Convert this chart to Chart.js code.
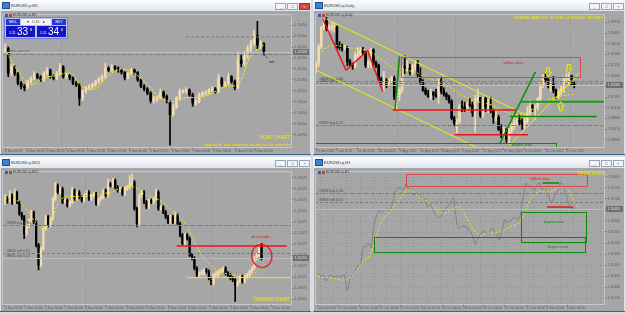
<!DOCTYPE html>
<html>
<head>
<meta charset="utf-8">
<script src="https://cdn.jsdelivr.net/npm/chart.js@4.4.0/dist/chart.umd.min.js"></script>
<style>
body{margin:0;width:625px;height:314px;overflow:hidden;background:#d3dae2;font-family:"Liberation Sans",Arial,sans-serif;position:relative}
.win{position:absolute;height:155px;background:#dde3ea;border-bottom:1px solid #3f6584;box-sizing:border-box}
.bar{position:absolute;left:0;top:0;right:0;height:11px;background:linear-gradient(#fdfdfe,#dfe6ee)}
.ico{position:absolute;left:2px;top:2px;width:6px;height:5px;background:#3e7fd0;border:1px solid #1f4f8c}
.ttl{position:absolute;left:11px;top:3px;font-size:4px;color:#333;white-space:nowrap}
.btns{position:absolute;right:1px;top:3px;display:flex;gap:1px}
.btns span{width:9px;height:5px;border:1px solid #98a4b2;background:#f2f4f7;font-size:4px;line-height:5px;text-align:center;color:#555}
.btns span.x{background:#d9483f;border-color:#a4302a;color:#fff}
canvas{position:absolute;left:1px;top:11px}
.sym{position:absolute;left:5px;top:13px;font-size:3.5px;color:#444;white-space:nowrap}
.sym i{display:inline-block;width:3px;height:3px;margin-right:1px;vertical-align:middle}
.tp{position:absolute;left:4px;top:17px;width:62px;height:20px;background:#b8c2e8;border:1px solid #6f80d8}
.tp div{position:absolute;color:#fff;text-align:center;white-space:nowrap}
.sb{top:1px;height:6px;background:#2438d8;font-size:3.5px;line-height:6px}
.lot{left:16px;top:1px;width:30px;height:6px;background:#f4f4f6;font-size:3.5px;line-height:6px;color:#333!important}
.pb{top:8px;width:29px;height:11px;background:#1414c2}
.pb small{position:absolute;left:3px;top:5px;font-size:3.5px}
.pb b{position:absolute;left:11px;top:0;font-size:10px;line-height:11px;font-weight:normal}
.pb sup{position:absolute;left:24px;top:1px;font-size:4px}
</style>
</head>
<body>
<div class="win" style="left:0;top:0;width:311px">
  <div class="bar"><i class="ico"></i><span class="ttl">EURUSD.p,M5</span>
    <div class="btns"><span>_</span><span>□</span><span class="x">×</span></div></div>
  <canvas id="m5" width="309" height="143"></canvas>
  <div class="sym"><i style="background:#3a56c8"></i><i style="background:#c83a3a"></i>EURUSD.p,M5</div>
  <div class="tp">
    <div class="sb" style="left:1px;width:14px">SELL</div>
    <div class="lot">▾&nbsp;&nbsp;&nbsp;&nbsp;0.15&nbsp;&nbsp;&nbsp;&nbsp;▸</div>
    <div class="sb" style="left:47px;width:14px">BUY</div>
    <div class="pb" style="left:1px"><small>1.11</small><b>33</b><sup>8</sup></div>
    <div class="pb" style="left:32px"><small>1.11</small><b>34</b><sup>6</sup></div>
  </div>
</div>
<div class="win" style="left:313px;top:0;width:312px">
  <div class="bar"><i class="ico"></i><span class="ttl">EURUSD.p,Daily</span>
    <div class="btns"><span>_</span><span>□</span><span>×</span></div></div>
  <canvas id="d1" width="310" height="143"></canvas>
  <div class="sym"><i style="background:#3a56c8"></i><i style="background:#c83a3a"></i>EURUSD.p,Daily</div>
</div>
<div class="win" style="left:0;top:157px;width:311px">
  <div class="bar"><i class="ico"></i><span class="ttl">EURUSD.p,M15</span>
    <div class="btns"><span>_</span><span>□</span><span>×</span></div></div>
  <canvas id="m15" width="309" height="143"></canvas>
  <div class="sym"><i style="background:#3a56c8"></i><i style="background:#c83a3a"></i>EURUSD.p,M15</div>
</div>
<div class="win" style="left:313px;top:157px;width:312px">
  <div class="bar"><i class="ico"></i><span class="ttl">EURUSD.p,H1</span>
    <div class="btns"><span>_</span><span>□</span><span>×</span></div></div>
  <canvas id="h1" width="310" height="143"></canvas>
  <div class="sym"><i style="background:#3a56c8"></i><i style="background:#c83a3a"></i>EURUSD.p,H1</div>
</div>

<script>
// candle rows are [open, high, low, close]
const m5Bars = [
  [1.11328,1.11366,1.11315,1.11343],[1.11343,1.11350,1.11215,1.11230],[1.11230,1.11270,1.11220,1.11260],
  [1.11260,1.11265,1.11220,1.11230],[1.11230,1.11235,1.11177,1.11185],[1.11185,1.11193,1.11159,1.11170],
  [1.11170,1.11179,1.11150,1.11165],[1.11165,1.11200,1.11159,1.11193],[1.11193,1.11215,1.11185,1.11205],
  [1.11205,1.11238,1.11200,1.11223],[1.11223,1.11230,1.11205,1.11211],[1.11211,1.11220,1.11193,1.11200],
  [1.11200,1.11238,1.11193,1.11230],[1.11230,1.11256,1.11223,1.11245],[1.11245,1.11250,1.11208,1.11215],
  [1.11215,1.11223,1.11200,1.11208],[1.11208,1.11238,1.11200,1.11230],[1.11230,1.11275,1.11223,1.11260],
  [1.11260,1.11265,1.11208,1.11215],[1.11215,1.11230,1.11205,1.11220],[1.11220,1.11226,1.11200,1.11211],
  [1.11211,1.11215,1.11179,1.11185],[1.11185,1.11193,1.11170,1.11177],[1.11177,1.11185,1.11084,1.11117],
  [1.11117,1.11155,1.11105,1.11150],[1.11150,1.11170,1.11140,1.11165],[1.11165,1.11179,1.11155,1.11170],
  [1.11170,1.11185,1.11159,1.11179],[1.11179,1.11200,1.11170,1.11193],[1.11193,1.11211,1.11185,1.11205],
  [1.11205,1.11223,1.11193,1.11215],[1.11215,1.11275,1.11208,1.11253],[1.11253,1.11260,1.11238,1.11245],
  [1.11245,1.11270,1.11238,1.11260],[1.11260,1.11265,1.11245,1.11253],[1.11253,1.11260,1.11235,1.11245],
  [1.11245,1.11250,1.11226,1.11235],[1.11235,1.11238,1.11200,1.11211],[1.11211,1.11235,1.11205,1.11230],
  [1.11230,1.11253,1.11223,1.11245],[1.11245,1.11250,1.11226,1.11235],[1.11235,1.11238,1.11193,1.11200],
  [1.11200,1.11205,1.11165,1.11170],[1.11170,1.11179,1.11150,1.11159],[1.11159,1.11165,1.11132,1.11140],
  [1.11140,1.11147,1.11095,1.11105],[1.11105,1.11125,1.11095,1.11114],[1.11114,1.11125,1.11102,1.11117],
  [1.11117,1.11159,1.11114,1.11144],[1.11144,1.11150,1.11117,1.11125],[1.11125,1.11132,1.11095,1.11102],
  [1.11102,1.11105,1.10903,1.11042],[1.11042,1.11090,1.11035,1.11075],[1.11075,1.11125,1.11070,1.11117],
  [1.11117,1.11159,1.11110,1.11147],[1.11147,1.11155,1.11140,1.11150],[1.11150,1.11165,1.11140,1.11155],
  [1.11155,1.11159,1.11125,1.11132],[1.11132,1.11140,1.11080,1.11095],[1.11095,1.11110,1.11084,1.11102],
  [1.11102,1.11140,1.11095,1.11132],[1.11132,1.11147,1.11125,1.11140],[1.11140,1.11150,1.11132,1.11144],
  [1.11144,1.11159,1.11135,1.11155],[1.11155,1.11170,1.11147,1.11159],[1.11159,1.11165,1.11140,1.11147],
  [1.11147,1.11226,1.11140,1.11205],[1.11205,1.11211,1.11170,1.11179],[1.11179,1.11193,1.11170,1.11185],
  [1.11185,1.11230,1.11179,1.11215],[1.11215,1.11220,1.11185,1.11193],[1.11193,1.11200,1.11155,1.11165],
  [1.11165,1.11328,1.11159,1.11290],[1.11290,1.11313,1.11260,1.11275],[1.11275,1.11328,1.11265,1.11313],
  [1.11313,1.11358,1.11298,1.11343],[1.11343,1.11380,1.11328,1.11366],[1.11366,1.11426,1.11358,1.11403],
  [1.11403,1.11467,1.11343,1.11358],[1.11358,1.11380,1.11343,1.11366],[1.11366,1.11370,1.11313,1.11328]
];
const m5Ma = [[0,1.1134],[4,1.1124],[8,1.1118],[12,1.1121],[16,1.1122],[20,1.1123],[24,1.1117],[28,1.1116],
  [32,1.1122],[36,1.1125],[40,1.1123],[44,1.1118],[48,1.1112],[52,1.1110],[56,1.1112],[60,1.1112],
  [64,1.1114],[68,1.1117],[72,1.1118],[76,1.1131],[80,1.1136]];
const m5PriceTicks = [1.1145,1.1140,1.1135,1.1130,1.1125,1.1120,1.1115,1.1110,1.1105,1.1100,1.1095];
const m5TimeTicks = [[0,'4 Nov 2019'],[6.7,'4 Nov 16:30'],[12.9,'4 Nov 18:00'],[19.1,'4 Nov 19:30'],
  [25.4,'4 Nov 21:00'],[31.9,'4 Nov 22:30'],[38.4,'5 Nov 00:00'],[44.8,'5 Nov 01:30'],[51.5,'5 Nov 03:00'],
  [58,'5 Nov 04:30'],[64.4,'5 Nov 06:00'],[71.1,'5 Nov 07:30'],[77.2,'5 Nov 09:00']];

const dailyBars = [
  [1.1195,1.1225,1.1180,1.1220],[1.1220,1.1300,1.1205,1.1290],[1.1290,1.1375,1.1280,1.1370],[1.1370,1.1405,1.1360,1.1400],
  [1.1400,1.1412,1.1355,1.1365],[1.1365,1.1380,1.1345,1.1368],[1.1368,1.1390,1.1355,1.1370],[1.1370,1.1390,1.1350,1.1372],
  [1.1372,1.1375,1.1280,1.1287],[1.1287,1.1310,1.1275,1.1285],[1.1285,1.1300,1.1270,1.1283],[1.1283,1.1295,1.1275,1.1284],
  [1.1284,1.1290,1.1208,1.1225],[1.1225,1.1235,1.1206,1.1213],[1.1213,1.1220,1.1193,1.1207],[1.1207,1.1265,1.1200,1.1252],
  [1.1252,1.1285,1.1240,1.1255],[1.1255,1.1285,1.1245,1.1271],[1.1271,1.1286,1.1255,1.1262],[1.1262,1.1270,1.1200,1.1210],
  [1.1210,1.1230,1.1200,1.1223],[1.1223,1.1282,1.1200,1.1275],[1.1275,1.1280,1.1205,1.1220],[1.1220,1.1228,1.1200,1.1210],
  [1.1210,1.1215,1.1145,1.1150],[1.1150,1.1160,1.1127,1.1140],[1.1140,1.1185,1.1101,1.1145],[1.1145,1.1155,1.1115,1.1127],
  [1.1127,1.1155,1.1125,1.1140],[1.1140,1.1165,1.1130,1.1155],[1.1155,1.1165,1.1065,1.1077],[1.1077,1.1090,1.1027,1.1085],
  [1.1085,1.1117,1.1060,1.1108],[1.1108,1.1210,1.1095,1.1202],[1.1202,1.1250,1.1175,1.1200],[1.1200,1.1230,1.1185,1.1200],
  [1.1200,1.1215,1.1170,1.1180],[1.1180,1.1215,1.1170,1.1200],[1.1200,1.1230,1.1190,1.1215],[1.1215,1.1230,1.1160,1.1170],
  [1.1170,1.1200,1.1130,1.1140],[1.1140,1.1150,1.1100,1.1105],[1.1105,1.1115,1.1085,1.1090],[1.1090,1.1105,1.1075,1.1078],
  [1.1078,1.1110,1.1065,1.1095],[1.1095,1.1100,1.1065,1.1085],[1.1085,1.1110,1.1075,1.1080],[1.1080,1.1160,1.1050,1.1143],
  [1.1143,1.1160,1.1090,1.1100],[1.1100,1.1115,1.1080,1.1088],[1.1088,1.1095,1.1065,1.1077],[1.1077,1.1085,1.1050,1.1058],
  [1.1058,1.1065,1.0980,1.0987],[1.0987,1.0995,1.0955,1.0966],[1.0966,1.0985,1.0926,1.0972],[1.0972,1.1045,1.0965,1.1035],
  [1.1035,1.1060,1.1015,1.1033],[1.1033,1.1055,1.1015,1.1026],[1.1026,1.1055,1.1015,1.1045],[1.1045,1.1070,1.1035,1.1043],
  [1.1043,1.1055,1.0995,1.1010],[1.1010,1.1085,1.0927,1.1065],[1.1065,1.1110,1.1055,1.1073],[1.1073,1.1075,1.0990,1.1000],
  [1.1000,1.1075,1.0990,1.1070],[1.1070,1.1075,1.1015,1.1030],[1.1030,1.1068,1.1010,1.1040],[1.1040,1.1075,1.1010,1.1018],
  [1.1018,1.1025,1.0965,1.0990],[1.0990,1.1025,1.0975,1.0992],[1.0992,1.1000,1.0935,1.0940],[1.0940,1.0960,1.0905,1.0920],
  [1.0920,1.0950,1.0905,1.0940],[1.0940,1.0945,1.0885,1.0900],[1.0900,1.0945,1.0879,1.0932],[1.0932,1.0965,1.0925,1.0960],
  [1.0960,1.0995,1.0940,1.0970],[1.0970,1.0990,1.0955,1.0978],[1.0978,1.1000,1.0955,1.0970],[1.0970,1.0985,1.0940,1.0956],
  [1.0956,1.0990,1.0945,1.0972],[1.0972,1.1035,1.0965,1.1005],[1.1005,1.1065,1.1000,1.1040],[1.1040,1.1045,1.1015,1.1030],
  [1.1030,1.1045,1.0990,1.1032],[1.1032,1.1075,1.1020,1.1068],[1.1068,1.1140,1.1060,1.1123],[1.1123,1.1172,1.1115,1.1155],
  [1.1155,1.1179,1.1140,1.1150],[1.1150,1.1155,1.1115,1.1125],[1.1125,1.1140,1.1100,1.1130],[1.1130,1.1163,1.1095,1.1105],
  [1.1105,1.1110,1.1070,1.1080],[1.1080,1.1110,1.1070,1.1100],[1.1100,1.1125,1.1085,1.1112],[1.1112,1.1160,1.1095,1.1150],
  [1.1150,1.1175,1.1140,1.1152],[1.1152,1.1177,1.1130,1.1166],[1.1166,1.1168,1.1125,1.1130],[1.1130,1.1140,1.1115,1.1126]
];
const dailyMa = [[0.4,1.12378],[3.2,1.12796],[7,1.12935],[10.9,1.12865],[16,1.12796],[21.1,1.12657],[25.6,1.12308],
  [30.1,1.1196],[33.9,1.1189],[37.8,1.11821],[41.6,1.11612],[46.7,1.11403],[51.9,1.11124],[57,1.10776],
  [62.1,1.10567],[67.2,1.10428],[72.3,1.10149],[77.5,1.1001],[82.6,1.10219],[87.7,1.10567],[92.8,1.10776],[99.2,1.10874]];
const dailyPriceTicks = [1.1391,1.1346,1.1301,1.1256,1.1211,1.1166,1.1121,1.1076,1.1031,1.0986,1.0941,1.0896];
const dailyTimeTicks = [[0,'19 Jun 2019'],[8,'1 Jul 2019'],[16,'11 Jul 2019'],[24,'23 Jul 2019'],[32,'2 Aug 2019'],
  [40,'14 Aug 2019'],[48,'26 Aug 2019'],[56,'5 Sep 2019'],[64,'17 Sep 2019'],[72,'27 Sep 2019'],[80,'9 Oct 2019'],
  [88,'21 Oct 2019'],[96,'31 Oct 2019']];

const m15Bars = [
  [1.11473,1.11500,1.11455,1.11480],[1.11480,1.11490,1.11460,1.11473],[1.11473,1.11518,1.11465,1.11495],
  [1.11495,1.11503,1.11455,1.11465],[1.11465,1.11525,1.11458,1.11510],[1.11510,1.11515,1.11458,1.11465],
  [1.11465,1.11470,1.11405,1.11413],[1.11413,1.11420,1.11385,1.11398],[1.11398,1.11405,1.11300,1.11323],
  [1.11323,1.11370,1.11315,1.11360],[1.11360,1.11390,1.11350,1.11383],[1.11383,1.11428,1.11375,1.11420],
  [1.11420,1.11425,1.11368,1.11375],[1.11375,1.11380,1.11262,1.11270],[1.11270,1.11278,1.11158,1.11180],
  [1.11180,1.11262,1.11172,1.11255],[1.11255,1.11353,1.11248,1.11345],[1.11345,1.11405,1.11338,1.11398],
  [1.11398,1.11405,1.11353,1.11360],[1.11360,1.11398,1.11353,1.11390],[1.11390,1.11488,1.11383,1.11480],
  [1.11480,1.11555,1.11473,1.11540],[1.11540,1.11548,1.11503,1.11510],[1.11510,1.11533,1.11503,1.11525],
  [1.11525,1.11533,1.11458,1.11465],[1.11465,1.11480,1.11458,1.11473],[1.11473,1.11480,1.11443,1.11450],
  [1.11450,1.11473,1.11443,1.11465],[1.11465,1.11533,1.11458,1.11518],[1.11518,1.11525,1.11473,1.11480],
  [1.11480,1.11518,1.11473,1.11510],[1.11510,1.11518,1.11480,1.11488],[1.11488,1.11495,1.11465,1.11473],
  [1.11473,1.11503,1.11465,1.11495],[1.11495,1.11518,1.11488,1.11510],[1.11510,1.11518,1.11473,1.11480],
  [1.11480,1.11503,1.11473,1.11495],[1.11495,1.11510,1.11488,1.11503],[1.11503,1.11510,1.11450,1.11458],
  [1.11458,1.11488,1.11450,1.11480],[1.11480,1.11495,1.11473,1.11488],[1.11488,1.11525,1.11480,1.11518],
  [1.11518,1.11525,1.11488,1.11495],[1.11495,1.11570,1.11488,1.11548],[1.11548,1.11555,1.11533,1.11540],
  [1.11540,1.11573,1.11533,1.11563],[1.11563,1.11570,1.11525,1.11533],[1.11533,1.11540,1.11510,1.11518],
  [1.11518,1.11533,1.11510,1.11525],[1.11525,1.11533,1.11495,1.11503],[1.11503,1.11533,1.11495,1.11525],
  [1.11525,1.11540,1.11518,1.11533],[1.11533,1.11585,1.11525,1.11548],[1.11548,1.11593,1.11540,1.11555],
  [1.11555,1.11563,1.11428,1.11435],[1.11435,1.11443,1.11353,1.11368],[1.11368,1.11503,1.11360,1.11495],
  [1.11495,1.11518,1.11488,1.11510],[1.11510,1.11518,1.11458,1.11465],[1.11465,1.11473,1.11435,1.11443],
  [1.11443,1.11480,1.11435,1.11473],[1.11473,1.11480,1.11458,1.11465],[1.11465,1.11488,1.11458,1.11480],
  [1.11480,1.11525,1.11473,1.11510],[1.11510,1.11518,1.11428,1.11435],[1.11435,1.11450,1.11428,1.11443],
  [1.11443,1.11450,1.11413,1.11420],[1.11420,1.11428,1.11390,1.11398],[1.11398,1.11405,1.11368,1.11375],
  [1.11375,1.11405,1.11368,1.11398],[1.11398,1.11405,1.11368,1.11375],[1.11375,1.11420,1.11368,1.11405],
  [1.11405,1.11413,1.11360,1.11368],[1.11368,1.11375,1.11308,1.11315],[1.11315,1.11323,1.11270,1.11278],
  [1.11278,1.11323,1.11270,1.11315],[1.11315,1.11323,1.11293,1.11300],[1.11300,1.11308,1.11218,1.11225],
  [1.11225,1.11233,1.11203,1.11210],[1.11210,1.11218,1.11158,1.11165],[1.11165,1.11173,1.11128,1.11135],
  [1.11135,1.11150,1.11128,1.11143],[1.11143,1.11158,1.11135,1.11143],[1.11143,1.11165,1.11135,1.11158],
  [1.11158,1.11165,1.11143,1.11150],[1.11150,1.11158,1.11113,1.11120],[1.11120,1.11128,1.11090,1.11098],
  [1.11098,1.11143,1.11090,1.11135],[1.11135,1.11150,1.11128,1.11135],[1.11135,1.11158,1.11128,1.11150],
  [1.11150,1.11165,1.11143,1.11158],[1.11158,1.11173,1.11150,1.11165],[1.11165,1.11173,1.11135,1.11143],
  [1.11143,1.11150,1.11128,1.11135],[1.11135,1.11143,1.11113,1.11120],[1.11120,1.11128,1.11105,1.11113],
  [1.11113,1.11120,1.11015,1.11090],[1.11090,1.11113,1.11083,1.11105],[1.11105,1.11135,1.11098,1.11128],
  [1.11128,1.11135,1.11098,1.11105],[1.11105,1.11135,1.11098,1.11128],[1.11128,1.11143,1.11120,1.11135],
  [1.11135,1.11158,1.11128,1.11150],[1.11150,1.11173,1.11143,1.11165],[1.11165,1.11218,1.11158,1.11210],
  [1.11210,1.11233,1.11203,1.11225],[1.11225,1.11278,1.11218,1.11270],[1.11270,1.11278,1.11203,1.11210]
];
const m15Ma = [[0,1.11483],[6.3,1.11465],[11.1,1.11398],[15.3,1.11345],[18.8,1.11368],[23.6,1.1148],[32.7,1.11492],
  [43.8,1.1151],[49.4,1.11533],[54.2,1.11533],[59.1,1.11495],[64.7,1.11473],[68.8,1.11435],[73,1.11398],
  [76.5,1.11345],[80,1.11263],[84.1,1.11195],[89,1.11153],[95.3,1.11135],[100.8,1.11123],[105,1.1115],[108.1,1.11183]];
const m15PriceTicks = [1.11575,1.11525,1.11475,1.11425,1.11375,1.11325,1.11275,1.11225,1.11175,1.11125,1.11075,1.11025];
const m15TimeTicks = [[0,'1 Nov 2019'],[8.3,'1 Nov 12:00'],[16.7,'1 Nov 16:00'],[25,'1 Nov 20:00'],[33.4,'4 Nov 00:00'],
  [42.1,'4 Nov 04:00'],[50.8,'4 Nov 08:00'],[59.1,'4 Nov 12:00'],[68.1,'4 Nov 16:00'],[76.5,'4 Nov 20:00'],
  [85.5,'5 Nov 00:00'],[93.9,'5 Nov 04:00'],[102.5,'5 Nov 08:00'],[111.3,'5 Nov 12:00']];

const h1Close = [1.11363,1.11351,1.11355,1.11328,1.11348,1.11355,1.11343,1.11352,1.11346,1.11352,
  1.11355,1.11283,1.11340,1.11355,1.11373,1.11397,1.11400,1.11487,1.11481,1.11498,
  1.11478,1.11580,1.11628,1.11648,1.11637,1.11652,1.11655,1.11643,1.11682,1.11733,
  1.11751,1.11754,1.11739,1.11769,1.11742,1.11730,1.11718,1.11727,1.11718,1.11706,
  1.11700,1.11663,1.11682,1.11655,1.11628,1.11613,1.11618,1.11643,1.11655,1.11673,
  1.11693,1.11703,1.11588,1.11565,1.11577,1.11576,1.11568,1.11553,1.11532,1.11493,
  1.11523,1.11541,1.11558,1.11547,1.11538,1.11565,1.11559,1.11538,1.11513,1.11558,
  1.11607,1.11592,1.11601,1.11610,1.11616,1.11604,1.11628,1.11715,1.11772,1.11760,
  1.11753,1.11736,1.11760,1.11775,1.11742,1.11742,1.11730,1.11693,1.11688,1.11724,
  1.11738,1.11775,1.11763,1.11718,1.11678,1.11652,1.11661,1.11655];
const h1Ma = [[0,1.11348],[5.6,1.1134],[10.6,1.11333],[13.1,1.11355],[16.9,1.11415],[19.4,1.11445],[21.9,1.11535],
  [24.4,1.1161],[26.9,1.1164],[30.6,1.117],[33.1,1.11738],[35.6,1.1173],[39.4,1.117],[43.1,1.1167],[46.9,1.11633],
  [50.6,1.11655],[53.1,1.11663],[55.6,1.11618],[58.1,1.11565],[60.6,1.11535],[63.1,1.11543],[68.1,1.1155],
  [71.9,1.11573],[75.6,1.11595],[78.1,1.11655],[80.6,1.11715],[84.4,1.11738],[86.9,1.1173],[90.6,1.11753],
  [93.1,1.11745],[95.6,1.117],[97.5,1.11663]];
const h1PriceTicks = [1.118,1.1175,1.117,1.1165,1.116,1.1155,1.115,1.1145,1.114,1.1135,1.113,1.1125];
const h1TimeTicks = [[0,'16 Oct 2019'],[7.5,'17 Oct 10:00'],[15.6,'18 Oct 14:00'],[23.1,'21 Oct 18:00'],
  [30.9,'22 Oct 22:00'],[38.8,'24 Oct 02:00'],[46.6,'25 Oct 06:00'],[54.4,'28 Oct 10:00'],[61.9,'29 Oct 14:00'],
  [70,'30 Oct 18:00'],[78.1,'31 Oct 22:00'],[85.6,'4 Nov 02:00'],[93.4,'5 Nov 06:00']];
const h1GridX = [0.6,5.6,10.6,15.6,20.6,25.6,30.6,35.6,40.6,45.6,50.6,55.6,60.6,65.6,70.6,75.6,80.6,85.6,90.6,95.6,100.6,105.6];

const FONT = '"Liberation Sans", Arial, sans-serif';
const BG = '#a6a6a6', UP = '#f3dab0', DN = '#000000', YEL = '#f0f000', RED = '#e8141a',
      PINK = '#d8484c', GRN = '#0c8a0c', TXT = '#5c5c5c', DASH = '#7c7c7c', BID = '#bdbdbd';

function drawMark(c, m, X, Y, r) {
  c.strokeStyle = c.fillStyle = m.c || DASH;
  c.lineWidth = m.w || 1;
  c.setLineDash(m.d || []);
  c.beginPath();
  if (m.t === 'line') {
    c.moveTo(X(m.x1), Y(m.y1)); c.lineTo(X(m.x2), Y(m.y2)); c.stroke();
  } else if (m.t === 'rect') {
    const a = Math.round(X(m.x1)) + .5, b = Math.round(Y(m.y1)) + .5;
    c.strokeRect(a, b, Math.round(X(m.x2)) + .5 - a, Math.round(Y(m.y2)) + .5 - b);
  } else if (m.t === 'hl') {
    const p = Math.round(Y(m.y)) + .5;
    c.moveTo(r.left, p); c.lineTo(r.right, p); c.stroke();
    if (m.label) {
      c.font = '3.5px ' + FONT; c.fillStyle = '#505050';
      c.textAlign = 'left'; c.textBaseline = 'bottom';
      c.fillText(m.label, r.left + 4, p - .5);
    }
  } else if (m.t === 'vl') {
    const p = Math.round(X(m.x)) + .5;
    c.moveTo(p, r.top); c.lineTo(p, r.bottom); c.stroke();
  } else if (m.t === 'text') {
    c.font = (m.b ? 'bold ' : '') + m.s + 'px ' + FONT;
    c.textAlign = m.a || 'left'; c.textBaseline = 'middle';
    c.fillText(m.txt, X(m.x), Y(m.y));
  } else if (m.t === 'ell') {
    c.ellipse(X(m.x), Y(m.y), Math.abs(X(m.x + m.rx) - X(m.x)), Math.abs(Y(m.y + m.ry) - Y(m.y)), -0.15, 0, Math.PI * 2);
    c.stroke();
  } else if (m.t === 'arrow') {
    // hollow block arrow, tip at the point; dir 1 points down, -1 points up
    const tx = X(m.x), ty = Y(m.y);
    const shape = [[-1.5,-9],[1.5,-9],[1.5,-4.5],[3.2,-4.5],[0,0],[-3.2,-4.5],[-1.5,-4.5]];
    shape.forEach(([dx, dy], i) => {
      const px = tx + dx, py = ty + dy * m.dir;
      if (i) c.lineTo(px, py); else c.moveTo(px, py);
    });
    c.closePath(); c.stroke();
  }
}

function mtPlugin(cfg) {
  return {
    id: 'mt',
    beforeDraw(ch) {
      const c = ch.ctx;
      c.save(); c.fillStyle = BG; c.fillRect(0, 0, ch.width, ch.height); c.restore();
    },
    beforeDatasetsDraw(ch) {
      if (!cfg.gridX) return;
      const {ctx: c, chartArea: r, scales: {x, y}} = ch;
      c.save(); c.strokeStyle = '#939393'; c.lineWidth = 1; c.setLineDash([1, 2]);
      c.beginPath();
      cfg.gridX.forEach(v => { const p = Math.round(x.getPixelForValue(v)) + .5; c.moveTo(p, r.top); c.lineTo(p, r.bottom); });
      cfg.yTicks.forEach(v => { const p = Math.round(y.getPixelForValue(v)) + .5; c.moveTo(r.left, p); c.lineTo(r.right, p); });
      c.stroke(); c.restore();
    },
    afterDatasetsDraw(ch) {
      const {ctx: c, chartArea: r, scales: {x, y}} = ch;
      const X = v => x.getPixelForValue(v), Y = v => y.getPixelForValue(v);
      c.save();
      c.beginPath(); c.rect(r.left, r.top, r.width, r.height); c.clip();
      cfg.marks.forEach(m => drawMark(c, m, X, Y, r));
      c.restore();
      c.save();
      c.strokeStyle = '#c8c8c8'; c.lineWidth = 1;
      c.strokeRect(r.left + .5, r.top + .5, r.width - 1, r.height - 1);
      const py = Math.round(Y(cfg.tag));
      c.fillStyle = '#707070'; c.fillRect(r.right + 1, py - 3, ch.width - r.right - 2, 6);
      c.fillStyle = '#e2e2e2'; c.font = '3.5px ' + FONT; c.textAlign = 'left'; c.textBaseline = 'middle';
      c.fillText(cfg.tag.toFixed(5), r.right + 2.5, py);
      c.restore();
    }
  };
}

function mtChart(id, cfg) {
  const datasets = [];
  if (cfg.bars) {
    const col = cfg.bars.map(b => b[3] >= b[0] ? UP : DN);
    datasets.push({type: 'bar', data: cfg.bars.map((b, i) => ({x: i, y: [b[2], b[1]]})),
      backgroundColor: col, barThickness: 1, grouped: false, order: 3});
    datasets.push({type: 'bar', data: cfg.bars.map((b, i) => ({x: i, y: [b[0], b[3]]})),
      backgroundColor: col, barThickness: cfg.bodyW, minBarLength: 1, grouped: false, order: 2});
  }
  if (cfg.line) {
    datasets.push({type: 'line', data: cfg.line.map((v, i) => ({x: i, y: v})),
      borderColor: '#7d828c', borderWidth: 1, pointRadius: 0, order: 2});
  }
  datasets.push({type: 'line', data: cfg.ma.map(p => ({x: p[0], y: p[1]})),
    borderColor: YEL, borderWidth: 1, borderDash: cfg.maDash, pointRadius: 0, tension: 0.35, order: 1});

  new Chart(document.getElementById(id), {
    type: 'bar',
    data: {datasets},
    options: {
      responsive: false, animation: false, devicePixelRatio: 1, events: [],
      layout: {autoPadding: false, padding: {left: 1, top: 1, right: 0, bottom: 0}},
      plugins: {legend: {display: false}, tooltip: {enabled: false}},
      scales: {
        x: {
          type: 'linear', min: cfg.xMin, max: cfg.xMax, offset: false,
          afterBuildTicks: s => { s.ticks = cfg.xTicks.map(t => ({value: t[0]})); },
          afterFit: s => { s.height = 6; },
          ticks: {autoSkip: false, maxRotation: 0, minRotation: 0, align: 'start', padding: 0,
            color: TXT, font: {size: 3.3, family: FONT}, callback: (v, i) => cfg.xTicks[i][1]},
          grid: {drawOnChartArea: false, drawTicks: true, tickLength: 1.5, color: '#6e6e6e', offset: false},
          border: {display: false}
        },
        y: {
          type: 'linear', position: 'right', min: cfg.yMin, max: cfg.yMax, beginAtZero: false,
          afterBuildTicks: s => { s.ticks = cfg.yTicks.map(v => ({value: v})); },
          afterFit: s => { s.width = cfg.yW; },
          ticks: {padding: 1, color: TXT, font: {size: 3.5, family: FONT}, callback: v => v.toFixed(5)},
          grid: {drawOnChartArea: false, drawTicks: true, tickLength: 1.5, color: '#6e6e6e'},
          border: {display: false}
        }
      }
    },
    plugins: [mtPlugin(cfg)]
  });
}

mtChart('m5', {
  bars: m5Bars, bodyW: 2, ma: m5Ma, maDash: [3, 1],
  xMin: -0.93, xMax: 88.7, yMin: 1.1089, yMax: 1.1150, yW: 18,
  yTicks: m5PriceTicks, xTicks: m5TimeTicks, tag: 1.11328,
  marks: [
    {t: 'vl', x: 17.3, c: '#8c8c8c', d: [1, 2]},
    {t: 'line', x1: 56, y1: 1.11396, x2: 90, y2: 1.11396, c: DASH, d: [3, 2]},
    {t: 'hl', y: 1.11318, c: DASH, d: [4, 1, 1, 1], label: '#8840 sell 0.15'},
    {t: 'hl', y: 1.11328, c: BID},
    {t: 'line', x1: 79.8, y1: 1.11326, x2: 81.2, y2: 1.11296, c: '#2a2a2a', d: [1, 1]},
    {t: 'text', x: 81.5, y: 1.11283, txt: 'exit', s: 3.5, c: '#1e1e1e'},
    {t: 'text', x: 88.1, y: 1.10935, txt: 'NOW CHART', s: 5, c: YEL, a: 'right'},
    {t: 'text', x: 88.1, y: 1.10905, txt: "they are all 'now' charts but this one has the more info", s: 3.6, c: YEL, a: 'right'}
  ]
});

mtChart('d1', {
  bars: dailyBars, bodyW: 2, ma: dailyMa, maDash: [2, 2],
  xMin: -0.4, xMax: 110.8, yMin: 1.08616, yMax: 1.14258, yW: 19,
  yTicks: dailyPriceTicks, xTicks: dailyTimeTicks, tag: 1.1126,
  marks: [
    {t: 'vl', x: 31.1, c: '#8c8c8c', d: [1, 2]},
    {t: 'vl', x: 53.1, c: '#8c8c8c', d: [1, 2]},
    {t: 'vl', x: 97.3, c: '#8c8c8c', d: [1, 2]},
    {t: 'hl', y: 1.11445, c: DASH, d: [4, 1, 1, 1], label: '#8838 buy 0.30'},
    {t: 'hl', y: 1.1136, c: DASH, d: [3, 2], label: '#8840 sell 0.15'},
    {t: 'hl', y: 1.1126, c: BID},
    {t: 'hl', y: 1.09592, c: DASH, d: [4, 1, 1, 1], label: '#8839 buy 0.15'},
    {t: 'line', x1: 4, y1: 1.1405, x2: 84.4, y2: 1.09801, c: YEL},
    {t: 'line', x1: 0.1, y1: 1.1189, x2: 62.6, y2: 1.08589, c: YEL},
    {t: 'line', x1: 74.1, y1: 1.08728, x2: 101, y2: 1.11779, c: YEL},
    {t: 'line', x1: 2.6, y1: 1.1405, x2: 11.5, y2: 1.1189, c: RED, w: 1.5},
    {t: 'line', x1: 11.5, y1: 1.1189, x2: 19.8, y2: 1.12726, c: RED, w: 1.5},
    {t: 'line', x1: 19.8, y1: 1.12726, x2: 25.6, y2: 1.10985, c: RED, w: 1.5},
    {t: 'line', x1: 30.3, y1: 1.10219, x2: 32, y2: 1.12475, c: GRN, w: 1.5},
    {t: 'line', x1: 29.4, y1: 1.10219, x2: 76.8, y2: 1.10219, c: RED, w: 1.5},
    {t: 'line', x1: 53.1, y1: 1.09174, x2: 81.3, y2: 1.09174, c: RED, w: 1.5},
    {t: 'rect', x1: 32.7, y1: 1.12448, x2: 101.1, y2: 1.11612, c: PINK},
    {t: 'text', x: 75.5, y: 1.12197, txt: 'sellers area', s: 3.8, c: RED, a: 'center'},
    {t: 'line', x1: 70.4, y1: 1.08784, x2: 84.1, y2: 1.11821, c: GRN, w: 1.5},
    {t: 'line', x1: 78.7, y1: 1.10567, x2: 111, y2: 1.10567, c: '#12a012', w: 2},
    {t: 'line', x1: 74.3, y1: 1.09941, x2: 107.6, y2: 1.09941, c: GRN, w: 1.5},
    {t: 'rect', x1: -1, y1: 1.08826, x2: 92.2, y2: 1.084, c: GRN},
    {t: 'text', x: 79, y: 1.08728, txt: 'buyers area', s: 3.8, c: GRN, a: 'center'},
    {t: 'arrow', x: 89, y: 1.11612, dir: 1, c: YEL},
    {t: 'arrow', x: 96.9, y: 1.11751, dir: 1, c: YEL},
    {t: 'arrow', x: 93.9, y: 1.10567, dir: -1, c: YEL},
    {t: 'text', x: 110.1, y: 1.14091, txt: 'WHERE ARE WE IN THE CURRENT MOVE?', s: 4.4, c: YEL, a: 'right'}
  ]
});

mtChart('m15', {
  bars: m15Bars, bodyW: 1.6, ma: m15Ma, maDash: [2, 2],
  xMin: -1.25, xMax: 119.7, yMin: 1.10999, yMax: 1.11606, yW: 18,
  yTicks: m15PriceTicks, xTicks: m15TimeTicks, tag: 1.1121,
  marks: [
    {t: 'vl', x: 33.4, c: '#8c8c8c', d: [1, 2]},
    {t: 'vl', x: 85.8, c: '#8c8c8c', d: [1, 2]},
    {t: 'hl', y: 1.11363, c: DASH, d: [4, 1, 1, 1], label: '#8838 buy 0.30'},
    {t: 'hl', y: 1.11236, c: DASH, d: [3, 2], label: '#8840 sell 0.15'},
    {t: 'hl', y: 1.1121, c: BID, label: '#8841 sell 0.10'},
    {t: 'line', x1: 71.6, y1: 1.11267, x2: 117.5, y2: 1.11267, c: RED, w: 1.5},
    {t: 'line', x1: 75.8, y1: 1.11123, x2: 120, y2: 1.11123, c: YEL},
    {t: 'ell', x: 107.1, y: 1.11222, rx: 4.2, ry: 0.000525, c: RED, w: 1.2},
    {t: 'text', x: 106.4, y: 1.11305, txt: 'off new high', s: 3.5, c: RED, a: 'center'},
    {t: 'text', x: 118.9, y: 1.11022, txt: 'TRADING CHART', s: 4.5, c: YEL, a: 'right'}
  ]
});

mtChart('h1', {
  line: h1Close, ma: h1Ma, maDash: [2, 2], gridX: h1GridX,
  xMin: -1.1, xMax: 107.6, yMin: 1.11219, yMax: 1.11826, yW: 19,
  yTicks: h1PriceTicks, xTicks: h1TimeTicks, tag: 1.11655,
  marks: [
    {t: 'hl', y: 1.11727, c: DASH, d: [4, 1, 1, 1], label: '#8838 buy 0.30'},
    {t: 'hl', y: 1.11685, c: DASH, d: [3, 2], label: '#8840 sell 0.15'},
    {t: 'hl', y: 1.11655, c: BID},
    {t: 'rect', x1: 32.9, y1: 1.11813, x2: 100.9, y2: 1.1176, c: PINK},
    {t: 'text', x: 83.1, y: 1.1179, txt: 'sellers area', s: 3.8, c: RED, a: 'center'},
    {t: 'text', x: 97.5, y: 1.11813, txt: 'DIRECTION?', s: 4.3, c: YEL},
    {t: 'line', x1: 84.1, y1: 1.11772, x2: 90.4, y2: 1.11772, c: GRN, w: 1.5},
    {t: 'line', x1: 85.9, y1: 1.11663, x2: 95.6, y2: 1.11663, c: RED, w: 1.5},
    {t: 'rect', x1: 76.3, y1: 1.1164, x2: 100.6, y2: 1.11505, c: GRN},
    {t: 'text', x: 88.4, y: 1.11595, txt: 'buyers area', s: 3.8, c: GRN, a: 'center'},
    {t: 'rect', x1: 20.9, y1: 1.11528, x2: 100, y2: 1.11457, c: GRN},
    {t: 'text', x: 90, y: 1.11483, txt: 'buyers area', s: 3.8, c: GRN, a: 'center'}
  ]
});
</script>
</body>
</html>
